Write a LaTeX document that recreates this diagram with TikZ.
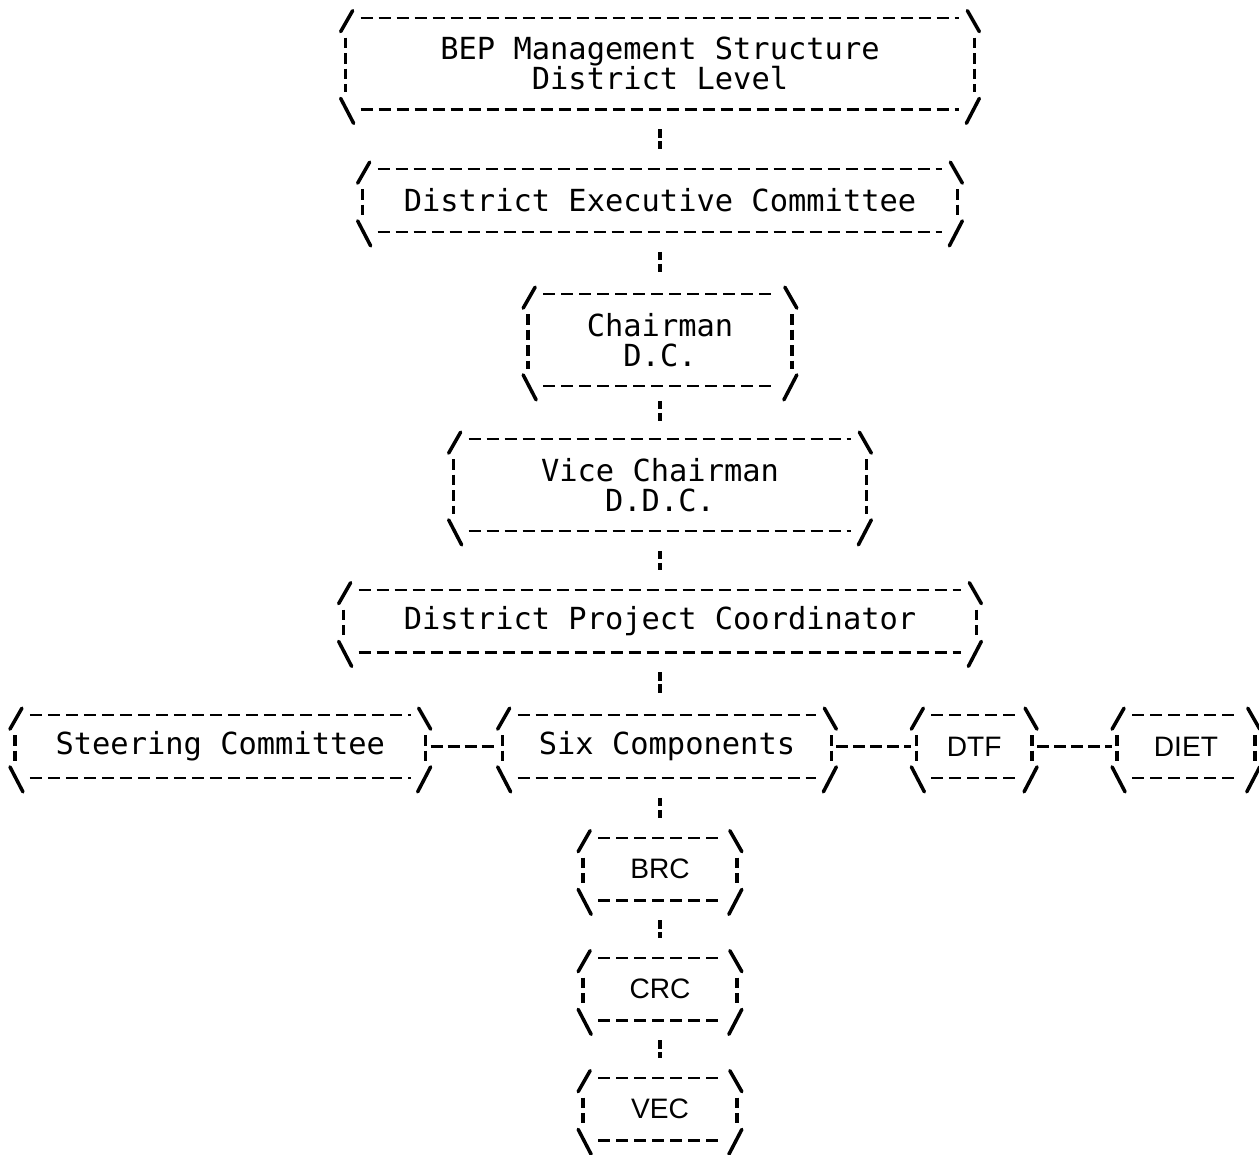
\documentclass[tikz,border=0pt]{standalone}
\usepackage{fontspec}
\newfontfamily\dotmono{DejaVu Sans Mono}
\newfontfamily\tagsans{Liberation Sans}
\usetikzlibrary{positioning}

\begin{document}
\begin{tikzpicture}[style={
    ascii/.style={
      inner sep=0pt,
      align=center,
      minimum height=1.24cm,
      node distance=2.4cm,
      font=\dotmono\fontsize{17.3}{17}\selectfont,
      append after command={
        \pgfextra{
          % slashes at the four corners
          \draw[line width=2pt, line cap=round]
            ([yshift=-0.28cm]\tikzlastnode.north west) -- ([xshift=0.24cm,yshift=0.14cm]\tikzlastnode.north west)
            ([yshift=-0.28cm]\tikzlastnode.north east) -- ([xshift=-0.24cm,yshift=0.14cm]\tikzlastnode.north east)
            ([yshift=0.22cm]\tikzlastnode.south west) -- ([xshift=0.26cm,yshift=-0.28cm]\tikzlastnode.south west)
            ([yshift=0.22cm]\tikzlastnode.south east) -- ([xshift=-0.26cm,yshift=-0.28cm]\tikzlastnode.south east);
          % dashed top and bottom
          \draw[line width=1.3pt, dash pattern=on 0.24cm off 0.12cm]
            ([xshift=0.4cm]\tikzlastnode.north west) -- ([xshift=-0.4cm]\tikzlastnode.north east)
            ([xshift=0.4cm]\tikzlastnode.south west) -- ([xshift=-0.4cm]\tikzlastnode.south east);
          % broken bars at the sides
          \draw[line width=2pt, dash pattern=on 0.21cm off 0.1cm]
            ([xshift=0.1cm,yshift=-0.4cm]\tikzlastnode.north west) -- ([xshift=0.1cm,yshift=0.34cm]\tikzlastnode.south west)
            ([xshift=-0.1cm,yshift=-0.4cm]\tikzlastnode.north east) -- ([xshift=-0.1cm,yshift=0.34cm]\tikzlastnode.south east);
        }
      },
    },
    twoline/.style={ascii, minimum height=1.82cm},
    tagbox/.style={ascii, font=\tagsans\fontsize{16}{16}\selectfont},
    vlink/.style={line width=2pt, dash pattern=on 0.17cm off 0.07cm,
      shorten <=0.4cm, shorten >=0.4cm},
    hlink/.style={line width=1.5pt, dash pattern=on 0.24cm off 0.1cm}
  }]
  \useasboundingbox (0,0) rectangle (25.18,-23.08);
  \node[twoline, minimum width=12.76cm] (bep) at (13.2,-1.27)
    {BEP Management Structure\\District Level};
  \node[ascii, minimum width=12.08cm, below of=bep, yshift=-0.34cm] (dec)
    {District Executive Committee};
  \node[twoline, minimum width=5.46cm, below of=dec, yshift=-0.39cm] (chair)
    {Chairman\\D.C.};
  \node[twoline, minimum width=8.44cm, below of=chair, yshift=-0.5cm] (vice)
    {Vice Chairman\\D.D.C.};
  \node[ascii, minimum width=12.84cm, below of=vice, yshift=-0.32cm] (dpc)
    {District Project Coordinator};
  \node[ascii, minimum width=6.76cm, below of=dpc, yshift=-0.11cm, xshift=0.14cm] (six)
    {Six Components};
  \node[ascii, minimum width=8.4cm, left=1.34cm of six] (steer)
    {Steering Committee};
  \node[tagbox, minimum width=2.5cm, right=1.5cm of six] (dtf) {DTF};
  \node[tagbox, minimum width=2.94cm, right=1.5cm of dtf] (diet) {DIET};
  \node[tagbox, minimum width=3.26cm, below of=six, yshift=-0.05cm, xshift=-0.14cm] (brc) {BRC};
  \node[tagbox, minimum width=3.26cm, below of=brc] (crc) {CRC};
  \node[tagbox, minimum width=3.26cm, below of=crc] (vec) {VEC};

  \draw[vlink] (bep.south) -- (dec.north);
  \draw[vlink] (dec.south) -- (chair.north);
  \draw[vlink, shorten <=0.3cm, shorten >=0.3cm] (chair.south) -- (vice.north);
  \draw[vlink] (vice.south) -- (dpc.north);
  \draw[vlink] (dpc.south) -- (dpc.south |- six.north);
  \draw[vlink] (brc.north |- six.south) -- (brc.north);
  \draw[vlink] (brc.south) -- (crc.north);
  \draw[vlink] (crc.south) -- (vec.north);
  \draw[hlink] (steer.east) -- (six.west);
  \draw[hlink] (six.east) -- (dtf.west);
  \draw[hlink] (dtf.east) -- (diet.west);
\end{tikzpicture}
\end{document}
